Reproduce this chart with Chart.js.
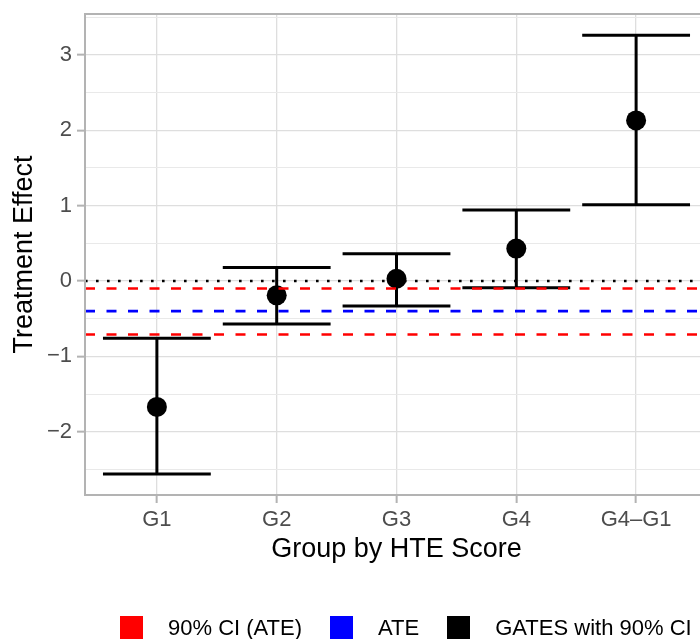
<!DOCTYPE html>
<html>
<head>
<meta charset="utf-8">
<script src="https://cdn.jsdelivr.net/npm/chart.js@4"></script>
<style>
  html, body { margin: 0; padding: 0; background: #fff; overflow: hidden; }
  #wrap { position: relative; width: 720px; height: 639px; }
  #hteChart { position: absolute; left: 0; top: 0; }
  #legend {
    position: absolute; left: 120px; top: 616px; height: 23px;
    display: flex; align-items: center; white-space: nowrap;
    font-family: "Liberation Sans", Arial, sans-serif; font-size: 22px; color: #000;
  }
  #legend .key { width: 23px; height: 23px; flex: none; }
  #legend .txt { margin-left: 25px; margin-right: 28px; line-height: 23px; }
</style>
</head>
<body>
<div id="wrap">
  <canvas id="hteChart" width="720" height="639" style="width:720px;height:639px"></canvas>
  <div id="legend"></div>
</div>
<script>
// Dados
const groups = ['G1', 'G2', 'G3', 'G4', 'G4\u2013G1'];
const gatesPoint = [-1.67, -0.19, 0.03, 0.43, 2.13];
const gatesUpper = [-0.76, 0.18, 0.36, 0.94, 3.26];
const gatesLower = [-2.56, -0.57, -0.33, -0.09, 1.01];
const ateValue = -0.40;
const ateCI = [-0.71, -0.10];
const zeroLine = 0;
const yTickValues = [-2.5, -2, -1.5, -1, -0.5, 0, 0.5, 1, 1.5, 2, 2.5, 3, 3.5];
const yLabelValues = [-2, -1, 0, 1, 2, 3];
const yLabels = ['\u22122', '\u22121', '0', '1', '2', '3'];
const legendLabels = ['90% CI (ATE)', 'ATE', 'GATES with 90% CI'];
const legendColors = ['#ff0000', '#0000ff', '#000000'];

const FONT = '"Liberation Sans", Arial, sans-serif';
const X_MIN = -0.6, X_MAX = 4.6;
const CAP = 0.45;

// Legenda HTML
const legendEl = document.getElementById('legend');
legendLabels.forEach((lab, i) => {
    const key = document.createElement('span');
    key.className = 'key';
    key.style.background = legendColors[i];
    const txt = document.createElement('span');
    txt.className = 'txt';
    txt.textContent = lab;
    legendEl.appendChild(key);
    legendEl.appendChild(txt);
});

// Datasets
const datasets = [];

function hline(y, color, dash) {
    return {
        data: [{ x: X_MIN, y: y }, { x: X_MAX, y: y }],
        showLine: true,
        borderColor: color,
        borderWidth: 2.6,
        borderDash: dash,
        pointRadius: 0,
        order: 0
    };
}

datasets.push(hline(zeroLine, '#000000', [2.6, 8.4]));
datasets.push(hline(ateCI[1], '#ff0000', [10, 11.5]));
datasets.push(hline(ateValue, '#0000ff', [10, 11.5]));
datasets.push(hline(ateCI[0], '#ff0000', [10, 11.5]));

datasets.push({
    data: gatesPoint.map((v, i) => ({ x: i, y: v })),
    pointRadius: 10,
    pointBackgroundColor: '#000',
    pointBorderWidth: 0,
    order: 1
});

function segment(pts) {
    return {
        data: pts,
        showLine: true,
        borderColor: '#000',
        borderWidth: 3,
        pointRadius: 0,
        order: 2
    };
}

groups.forEach((g, i) => {
    datasets.push(segment([{ x: i, y: gatesLower[i] }, { x: i, y: gatesUpper[i] }]));
    datasets.push(segment([{ x: i - CAP, y: gatesUpper[i] }, { x: i + CAP, y: gatesUpper[i] }]));
    datasets.push(segment([{ x: i - CAP, y: gatesLower[i] }, { x: i + CAP, y: gatesLower[i] }]));
});

// Borda do painel
const panelBorder = {
    id: 'panelBorder',
    afterDatasetsDraw(chart) {
        const { ctx, chartArea: a } = chart;
        ctx.save();
        ctx.strokeStyle = '#b3b3b3';
        ctx.lineWidth = 2;
        ctx.strokeRect(a.left, a.top, a.right - a.left, a.bottom - a.top);
        ctx.restore();
    }
};

new Chart(document.getElementById('hteChart'), {
    type: 'scatter',
    data: { datasets: datasets },
    options: {
        responsive: false,
        animation: false,
        devicePixelRatio: 1,
        layout: { padding: { top: 14, right: 12, left: 0, bottom: 0 } },
        plugins: {
            legend: { display: false },
            tooltip: { enabled: false }
        },
        scales: {
            x: {
                type: 'linear',
                min: X_MIN,
                max: X_MAX,
                afterBuildTicks: s => { s.ticks = groups.map((g, i) => ({ value: i })); },
                afterFit: s => { s.height = 144; s.paddingLeft = 0; s.paddingRight = 0; },
                ticks: {
                    callback: v => groups[v] ?? '',
                    color: '#4d4d4d',
                    font: { family: FONT, size: 22 },
                    padding: 4,
                    maxRotation: 0,
                    autoSkip: false
                },
                grid: {
                    color: '#dedede',
                    lineWidth: 1.3,
                    tickLength: 8,
                    tickColor: '#b3b3b3',
                    tickWidth: 2
                },
                border: { display: false },
                title: {
                    display: true,
                    text: 'Group by HTE Score',
                    color: '#000',
                    font: { family: FONT, size: 27 },
                    padding: { top: 0, bottom: 73 }
                }
            },
            y: {
                type: 'linear',
                min: -2.838,
                max: 3.541,
                afterBuildTicks: s => { s.ticks = yTickValues.map(v => ({ value: v })); },
                afterFit: s => { s.width = 85; s.paddingTop = 0; s.paddingBottom = 0; },
                ticks: {
                    callback: v => {
                        const k = yLabelValues.indexOf(v);
                        return k >= 0 ? yLabels[k] : '';
                    },
                    color: '#4d4d4d',
                    font: { family: FONT, size: 22 },
                    padding: 5,
                    autoSkip: false
                },
                grid: {
                    color: c => Number.isInteger(c.tick.value) ? '#dedede' : '#e9e9e9',
                    lineWidth: c => Number.isInteger(c.tick.value) ? 1.3 : 1,
                    tickLength: 8,
                    tickColor: c => Number.isInteger(c.tick.value) ? '#b3b3b3' : 'rgba(0,0,0,0)',
                    tickWidth: 2
                },
                border: { display: false },
                title: {
                    display: true,
                    text: 'Treatment Effect',
                    color: '#000',
                    font: { family: FONT, size: 27 },
                    padding: { top: 8, bottom: 0 }
                }
            }
        }
    },
    plugins: [panelBorder]
});
</script>
</body>
</html>
